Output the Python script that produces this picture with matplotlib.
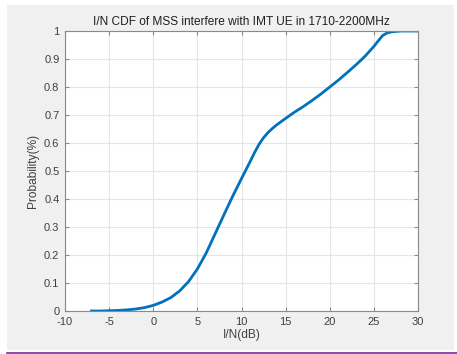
import numpy as np
import matplotlib.pyplot as plt
from matplotlib.patches import Rectangle
from matplotlib.lines import Line2D

plt.rcParams['font.family'] = ['Liberation Sans', 'DejaVu Sans']
plt.rcParams['axes.unicode_minus'] = False

# I/N CDF (dB vs probability)
in_db = [-7, -6, -5, -4, -3, -2, -1, 0, 1, 2, 3, 4, 5, 6, 7, 8, 9, 10,
         11, 11.5, 12, 12.5, 13, 13.5, 14, 15, 16, 17, 18, 19, 20, 21, 22,
         23, 24, 25, 25.5, 26, 26.5, 27, 28, 29, 30]
prob = [0, 0, 0.001, 0.002, 0.004, 0.007, 0.012, 0.02, 0.032, 0.048, 0.072,
        0.105, 0.15, 0.207, 0.275, 0.343, 0.41, 0.473, 0.535, 0.567, 0.596,
        0.619, 0.637, 0.652, 0.665, 0.688, 0.71, 0.73, 0.752, 0.775, 0.80,
        0.825, 0.852, 0.88, 0.91, 0.945, 0.965, 0.984, 0.993, 0.997, 1.0,
        1.0, 1.0]

xticks = np.arange(-10, 31, 5)
yticks = np.round(np.arange(0, 1.01, 0.1), 1)
ytick_labels = ['0'] + ['%.1f' % v for v in yticks[1:-1]] + ['1']

fig = plt.figure(figsize=(4.57, 3.54), dpi=100, facecolor='white')
# gray window panel behind the axes
fig.patches.append(Rectangle((7 / 457, 1 - 350 / 354), 447 / 457, 345 / 354,
                             transform=fig.transFigure, facecolor='#f0f0f0',
                             edgecolor='none', zorder=-10))
fig.lines.append(Line2D([7 / 457, 1], [1 - 352.5 / 354] * 2,
                        transform=fig.transFigure, color='#7030a0', lw=1.2,
                        zorder=-10))

ax = fig.add_axes([65 / 457, 43 / 354, 353 / 457, 280 / 354])
ax.set_facecolor('white')
ax.plot(in_db, prob, color='#0072bd', linewidth=2)

ax.set_xlim(-10, 30)
ax.set_ylim(0, 1)
ax.set_xticks(xticks)
ax.set_yticks(yticks)
ax.set_yticklabels(ytick_labels)
ax.grid(True, color='#e6e6e6', linewidth=0.8)
ax.set_axisbelow(True)
ax.tick_params(direction='in', top=True, right=True, length=3,
               labelsize=8, colors='#8a8a8a', labelcolor='#404040', pad=4)
for s in ax.spines.values():
    s.set_color('#8a8a8a')
    s.set_linewidth(0.8)

ax.set_title('I/N CDF of MSS interfere with IMT UE in 1710-2200MHz',
             fontsize=8.6, color='#202020', pad=4)
ax.set_xlabel('I/N(dB)', fontsize=8.6, color='#404040', labelpad=2)
ax.set_ylabel('Probability(%)', fontsize=8.6, color='#404040', labelpad=4)

fig.savefig('out.png', dpi=100, facecolor='white')
